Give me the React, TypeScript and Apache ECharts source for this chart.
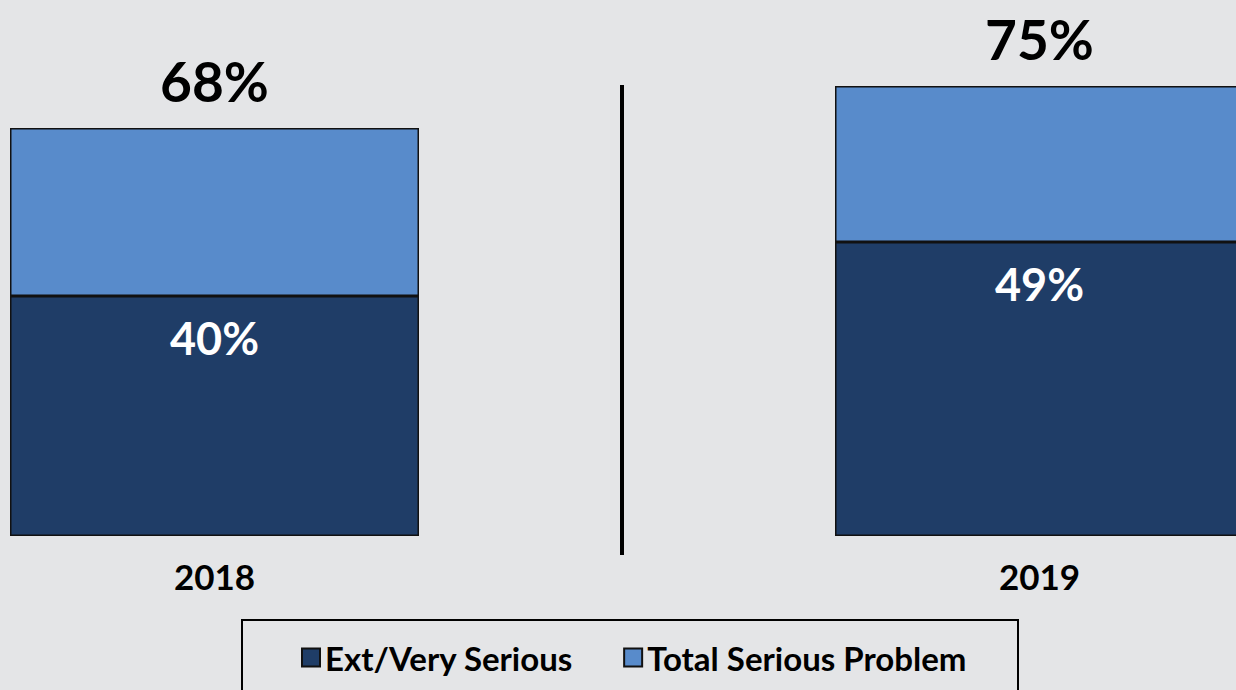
import React, { useEffect, useRef } from "react";
import * as echarts from "echarts";

const years = ["2018", "2019"];
const extVerySerious = [40, 49];
const totalSerious = [68, 75];
const legendNames = ["Ext/Very Serious", "Total Serious Problem"];

const DARK = "#1f3d67";
const LIGHT = "#588bcb";
const FONT = "Lato, 'Open Sans', sans-serif";
const SHIFT = 198; // chart canvas extends past the left page edge
const CHART_W = 1650;

export default function App() {
  const ref = useRef<HTMLDivElement>(null);
  useEffect(() => {
    document.body.style.margin = "0";
    const chart = echarts.init(ref.current!, null, { renderer: "svg" });
    const topPart = totalSerious.map((t, i) => t - extVerySerious[i]);
    chart.setOption({
      animation: false,
      backgroundColor: "#e4e5e7",
      textStyle: { fontFamily: FONT },
      grid: { left: 0, right: 0, top: 56, bottom: 154 },
      xAxis: {
        type: "category",
        data: years,
        axisLine: { show: false },
        axisTick: { show: false },
        axisLabel: {
          margin: 22,
          fontSize: 35,
          fontWeight: "bold",
          color: "#000",
          fontFamily: FONT,
        },
      },
      yAxis: {
        type: "value",
        min: 0,
        max: 80,
        show: false,
        splitLine: { show: false },
      },
      legend: {
        data: legendNames,
        top: 636,
        left: 296 + SHIFT,
        itemWidth: 18,
        itemHeight: 18,
        itemGap: 50,
        icon: "rect",
        textStyle: {
          fontSize: 33,
          fontWeight: "bold",
          color: "#000",
          fontFamily: FONT,
        },
      },
      graphic: [
        {
          type: "line",
          shape: { x1: 622 + SHIFT, y1: 85, x2: 622 + SHIFT, y2: 555 },
          style: { stroke: "#000", lineWidth: 4 },
        },
        {
          type: "rect",
          shape: { x: 242 + SHIFT, y: 620, width: 776, height: 100 },
          style: { fill: "none", stroke: "#000", lineWidth: 2 },
        },
      ],
      series: [
        {
          name: legendNames[0],
          type: "bar",
          stack: "total",
          barWidth: 409,
          data: extVerySerious,
          itemStyle: { color: DARK, borderColor: "#111", borderWidth: 1.5 },
          label: {
            show: true,
            position: "insideTop",
            distance: 19,
            formatter: "{c}%",
            color: "#fff",
            fontSize: 45,
            fontWeight: "bold",
            fontFamily: FONT,
          },
        },
        {
          name: legendNames[1],
          type: "bar",
          stack: "total",
          barWidth: 409,
          data: topPart,
          itemStyle: { color: LIGHT, borderColor: "#111", borderWidth: 1.5 },
          label: {
            show: true,
            position: "top",
            distance: 20,
            formatter: (p: any) => totalSerious[p.dataIndex] + "%",
            color: "#000",
            fontSize: 55,
            fontWeight: "bold",
            fontFamily: FONT,
          },
        },
      ],
    });
    return () => chart.dispose();
  }, []);
  return (
    <div style={{ width: 1236, height: 690, overflow: "hidden", position: "relative", background: "#e4e5e7" }}>
      <div ref={ref} style={{ position: "absolute", left: -SHIFT, top: 0, width: CHART_W, height: 690 }} />
    </div>
  );
}
